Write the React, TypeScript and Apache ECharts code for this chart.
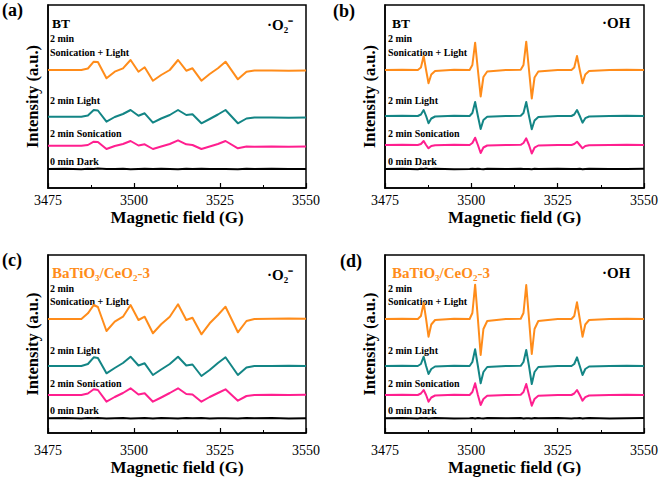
import { useEffect, useRef } from "react";
import * as echarts from "echarts";

// Magnetic field positions (G)
const fieldO2 = [3475, 3480, 3484.7, 3486.6, 3488.3, 3489.5, 3492.0, 3494.4, 3496.8, 3499.0, 3501.3, 3503.1, 3505.5, 3507.9, 3510.4, 3512.8, 3515.2, 3517.0, 3519.6, 3522.0, 3524.4, 3526.6, 3530.2, 3532.7, 3535, 3540, 3545, 3550];
const fieldOH = [3475, 3480, 3484.5, 3485.4, 3486.2, 3486.9, 3487.6, 3488.4, 3489.5, 3495, 3499.5, 3500.3, 3501.1, 3501.9, 3502.7, 3503.5, 3504.6, 3510, 3514.3, 3515.1, 3515.9, 3516.7, 3517.5, 3518.3, 3519.4, 3525, 3529.0, 3529.8, 3530.6, 3531.4, 3532.2, 3533.0, 3534.1, 3540, 3545, 3550];

// (a) BT, ·O2-
const aDark = [19, 19.3, 18.8, 19.2, 19, 19.4, 18.9, 19.1, 19.3, 18.8, 19, 19.2, 18.9, 19.3, 19, 18.8, 19.2, 19, 19.3, 18.9, 19.1, 19, 18.8, 19.2, 19, 19.3, 18.9, 19.1];
const aSon = [42.3, 42.3, 42.3, 43, 46.3, 46, 39, 42, 44, 47, 42.5, 43.7, 39, 41.5, 44, 47.7, 43.7, 43, 39, 41.5, 44, 47, 39.7, 41.5, 41.3, 41.5, 41.3, 41.5];
const aLight = [71.3, 71.3, 71.3, 72.5, 78, 77.5, 66.3, 71, 74, 78, 72.3, 74.7, 65.3, 69.5, 73, 78, 73, 73.7, 64.7, 69, 73.5, 78, 64.7, 69.5, 70.5, 70.5, 70.3, 70.5];
const aBoth = [118, 118, 118, 119.5, 126.3, 126, 109.7, 116.3, 119.7, 128, 116.3, 120.7, 107.3, 113, 118, 128, 117.3, 119.7, 107.3, 114, 119.7, 126.3, 108.7, 116.3, 117.5, 117.5, 117.3, 117.5];

// (b) BT, ·OH
const bDark = [19, 19.3, 18.8, 19.2, 19, 19.4, 18.9, 19.1, 19.3, 18.8, 19, 19.2, 18.9, 19.3, 19, 18.8, 19.2, 19, 19.3, 18.9, 19.1, 19, 18.8, 19.2, 19, 19.3, 18.9, 19.1, 19, 19.2, 18.8, 19.1, 19.3, 18.9, 19, 19.2];
const bSon = [43, 43.2, 43, 44, 47, 43, 39.7, 42, 42.8, 43.2, 43, 45, 50.3, 43, 35, 40.5, 42.5, 43, 43.2, 45, 49.7, 43, 34.5, 40.3, 42.5, 43, 43, 44, 46.3, 43, 39.7, 42, 42.8, 43, 43.2, 43];
const bLight = [72, 72.2, 72, 73.5, 78, 72, 64.7, 69.5, 71.5, 72.2, 72, 75, 86, 72, 59, 68, 71.2, 72, 72.2, 75, 86, 72, 58.7, 67.5, 71, 72, 72, 73.5, 78, 72, 65.3, 69.8, 71.5, 72, 72.2, 72];
const bBoth = [118, 118.3, 118, 120.5, 132, 118, 104.7, 113.5, 117, 118.3, 118, 123, 145.3, 118, 91.5, 111, 116.5, 118, 118.3, 123, 146.3, 118, 89.5, 110.5, 116.5, 118, 118, 120.5, 132, 118, 104.7, 113.5, 117, 118, 118.2, 118];

// (c) BaTiO3/CeO2-3, ·O2-
const cDark = [14.7, 15, 14.5, 14.9, 14.7, 15.1, 14.6, 14.8, 15, 14.5, 14.7, 14.9, 14.6, 15, 14.7, 14.5, 14.9, 14.7, 15, 14.6, 14.8, 14.7, 14.5, 14.9, 14.7, 15, 14.6, 14.8];
const cSon = [38, 38, 38, 39.5, 43.7, 43, 31.3, 36, 40, 44.7, 38.5, 39.7, 31.3, 35.5, 40, 44.7, 39, 38.5, 31.3, 36, 40, 43.7, 32.3, 37, 38, 38.2, 38, 38.2];
const cLight = [67, 67, 67, 69, 75.7, 75, 59.7, 65, 70, 76.3, 67.5, 69.7, 58, 63.5, 69, 76.3, 67.5, 68.5, 57, 63, 70, 75.7, 58, 65.5, 67, 67, 67.2, 67];
const cBoth = [114, 114, 114, 119.7, 128, 126, 102, 111.3, 116.3, 128, 113, 116.3, 99.7, 108.7, 116.3, 128.7, 113, 115.3, 98.7, 109.7, 118, 126.3, 100.7, 112, 114, 114.3, 114.5, 114.3];

// (d) BaTiO3/CeO2-3, ·OH
const dDark = [14.7, 15, 14.5, 14.9, 14.7, 15.1, 14.6, 14.8, 15, 14.5, 14.7, 14.9, 14.6, 15, 14.7, 14.5, 14.9, 14.7, 15, 14.6, 14.8, 14.7, 14.5, 14.9, 14.7, 15, 14.6, 14.8, 14.7, 14.9, 14.5, 14.8, 15, 14.6, 14.7, 14.9];
const dSon = [38, 38.2, 38, 39.5, 43, 38, 31.3, 35.5, 37.5, 38.2, 38, 41, 49.7, 38, 28, 34, 37.3, 38, 38.2, 41, 49, 38, 27.3, 34, 37.3, 38, 38, 39.5, 43, 38, 32.3, 35.8, 37.5, 38, 38.2, 38];
const dLight = [67, 67.2, 67, 69, 76.3, 67, 59, 64, 66.5, 67.2, 67, 71, 83.7, 67, 49.7, 61, 66, 67, 67.2, 71, 83, 67, 49, 61, 66, 67, 67, 69, 75.7, 67, 58, 64, 66.5, 67, 67.2, 67];
const dBoth = [114, 114.2, 114, 117, 130, 114, 96.3, 108.5, 113, 114.2, 114, 120, 148.3, 114, 78, 104, 112, 114, 114.2, 120, 148, 114, 79, 104, 112, 114, 114, 117, 130.7, 114, 96.3, 108.5, 113, 114, 114.2, 114];

const xMin = 3475;
const xMax = 3550;
const xStep = 25;

const traceNames = ["0 min Dark", "2 min Sonication", "2 min Light", "2 min Sonication + Light"];
const traceColors = ["#000000", "#FF1F8F", "#138585", "#FF8C1A"];

const FONT = '"Liberation Serif", "Times New Roman", serif';

const panels = [
  { field: fieldO2, traces: [aDark, aSon, aLight, aBoth], grid: { left: 48, top: 5, width: 258, height: 183 }, labelMargin: 5, nameGap: 21 },
  { field: fieldOH, traces: [bDark, bSon, bLight, bBoth], grid: { left: 385, top: 5, width: 259, height: 183 }, labelMargin: 5, nameGap: 21 },
  { field: fieldO2, traces: [cDark, cSon, cLight, cBoth], grid: { left: 48, top: 255, width: 258, height: 178 }, labelMargin: 10, nameGap: 26 },
  { field: fieldOH, traces: [dDark, dSon, dLight, dBoth], grid: { left: 385, top: 255, width: 259, height: 178 }, labelMargin: 10, nameGap: 26 },
];

function txt(x: number, y: number, text: string, size: number, opts: any = {}) {
  return {
    type: "text",
    x,
    y,
    silent: true,
    style: {
      text,
      fontFamily: FONT,
      fontSize: size,
      fontWeight: opts.weight ?? "bold",
      fill: opts.fill ?? "#000",
      align: opts.align ?? "left",
      verticalAlign: "middle",
      textAlign: opts.align ?? "left",
      textVerticalAlign: "middle",
    },
  };
}

export default function App() {
  const ref = useRef<HTMLDivElement>(null);
  useEffect(() => {
    if (!ref.current) return;
    const chart = echarts.init(ref.current, undefined, { renderer: "svg" });
    const grids: any[] = [];
    const xAxes: any[] = [];
    const yAxes: any[] = [];
    const series: any[] = [];
    panels.forEach((p, gi) => {
      grids.push({ ...p.grid, show: true, borderColor: "#000", borderWidth: 1.5, backgroundColor: "transparent" });
      xAxes.push({
        type: "value",
        gridIndex: gi,
        min: xMin,
        max: xMax,
        interval: xStep,
        name: "Magnetic field (G)",
        nameLocation: "middle",
        nameGap: p.nameGap,
        nameTextStyle: { fontFamily: FONT, fontSize: 17, fontWeight: "bold", color: "#000" },
        axisLine: { show: true, lineStyle: { color: "#000", width: 1.5 } },
        axisTick: { show: true, inside: true, length: 5, lineStyle: { color: "#000", width: 1.2 } },
        minorTick: { show: true, splitNumber: 2, length: 3, lineStyle: { color: "#000", width: 1 } },
        splitLine: { show: false },
        axisLabel: { fontFamily: FONT, fontSize: 14, color: "#000", margin: p.labelMargin, formatter: (v: number) => String(v) },
      });
      yAxes.push({
        type: "value",
        gridIndex: gi,
        min: 0,
        max: p.grid.height,
        name: "Intensity (a.u.)",
        nameLocation: "middle",
        nameGap: 7,
        nameTextStyle: { fontFamily: FONT, fontSize: 16.5, fontWeight: "bold", color: "#000" },
        axisLine: { show: true, lineStyle: { color: "#000", width: 1.5 } },
        axisTick: { show: false },
        axisLabel: { show: false },
        splitLine: { show: false },
      });
      p.traces.forEach((ys, ti) => {
        series.push({
          type: "line",
          name: traceNames[ti],
          xAxisIndex: gi,
          yAxisIndex: gi,
          data: p.field.map((x, i) => [x, ys[i]]),
          showSymbol: false,
          symbol: "none",
          lineStyle: { color: traceColors[ti], width: 2, join: "round" },
          itemStyle: { color: traceColors[ti] },
          z: 2 + ti,
        });
      });
    });

    const graphic: any[] = [
      txt(2, 10, "(a)", 18),
      txt(333, 11, "(b)", 18),
      txt(2, 260, "(c)", 18),
      txt(340, 261, "(d)", 18),
      // (a)
      txt(52, 23, "BT", 13.5),
      txt(267, 25, "·O₂⁻", 15),
      txt(50, 38, "2 min", 10),
      txt(50, 52, "Sonication + Light", 10),
      txt(50, 100, "2 min Light", 10),
      txt(50, 133, "2 min Sonication", 10),
      txt(50, 161, "0 min Dark", 10),
      // (b)
      txt(392, 23, "BT", 13.5),
      txt(602, 23, "·OH", 15),
      txt(388, 38, "2 min", 10),
      txt(388, 52, "Sonication + Light", 10),
      txt(388, 100, "2 min Light", 10),
      txt(388, 133, "2 min Sonication", 10),
      txt(388, 161, "0 min Dark", 10),
      // (c)
      txt(52, 273, "BaTiO₃/CeO₂-3", 15, { fill: "#FF8C1A" }),
      txt(267, 275, "·O₂⁻", 15),
      txt(50, 288, "2 min", 10),
      txt(50, 301, "Sonication + Light", 10),
      txt(50, 350, "2 min Light", 10),
      txt(50, 383, "2 min Sonication", 10),
      txt(50, 410, "0 min Dark", 10),
      // (d)
      txt(392, 273, "BaTiO₃/CeO₂-3", 15, { fill: "#FF8C1A" }),
      txt(602, 273, "·OH", 15),
      txt(388, 288, "2 min", 10),
      txt(388, 301, "Sonication + Light", 10),
      txt(388, 350, "2 min Light", 10),
      txt(388, 383, "2 min Sonication", 10),
      txt(388, 410, "0 min Dark", 10),
    ];

    chart.setOption({
      animation: false,
      backgroundColor: "#fff",
      grid: grids,
      xAxis: xAxes,
      yAxis: yAxes,
      series,
      graphic,
    });
    return () => chart.dispose();
  }, []);
  return <div ref={ref} style={{ position: "absolute", left: 0, top: 0, width: 661, height: 479 }} />;
}
